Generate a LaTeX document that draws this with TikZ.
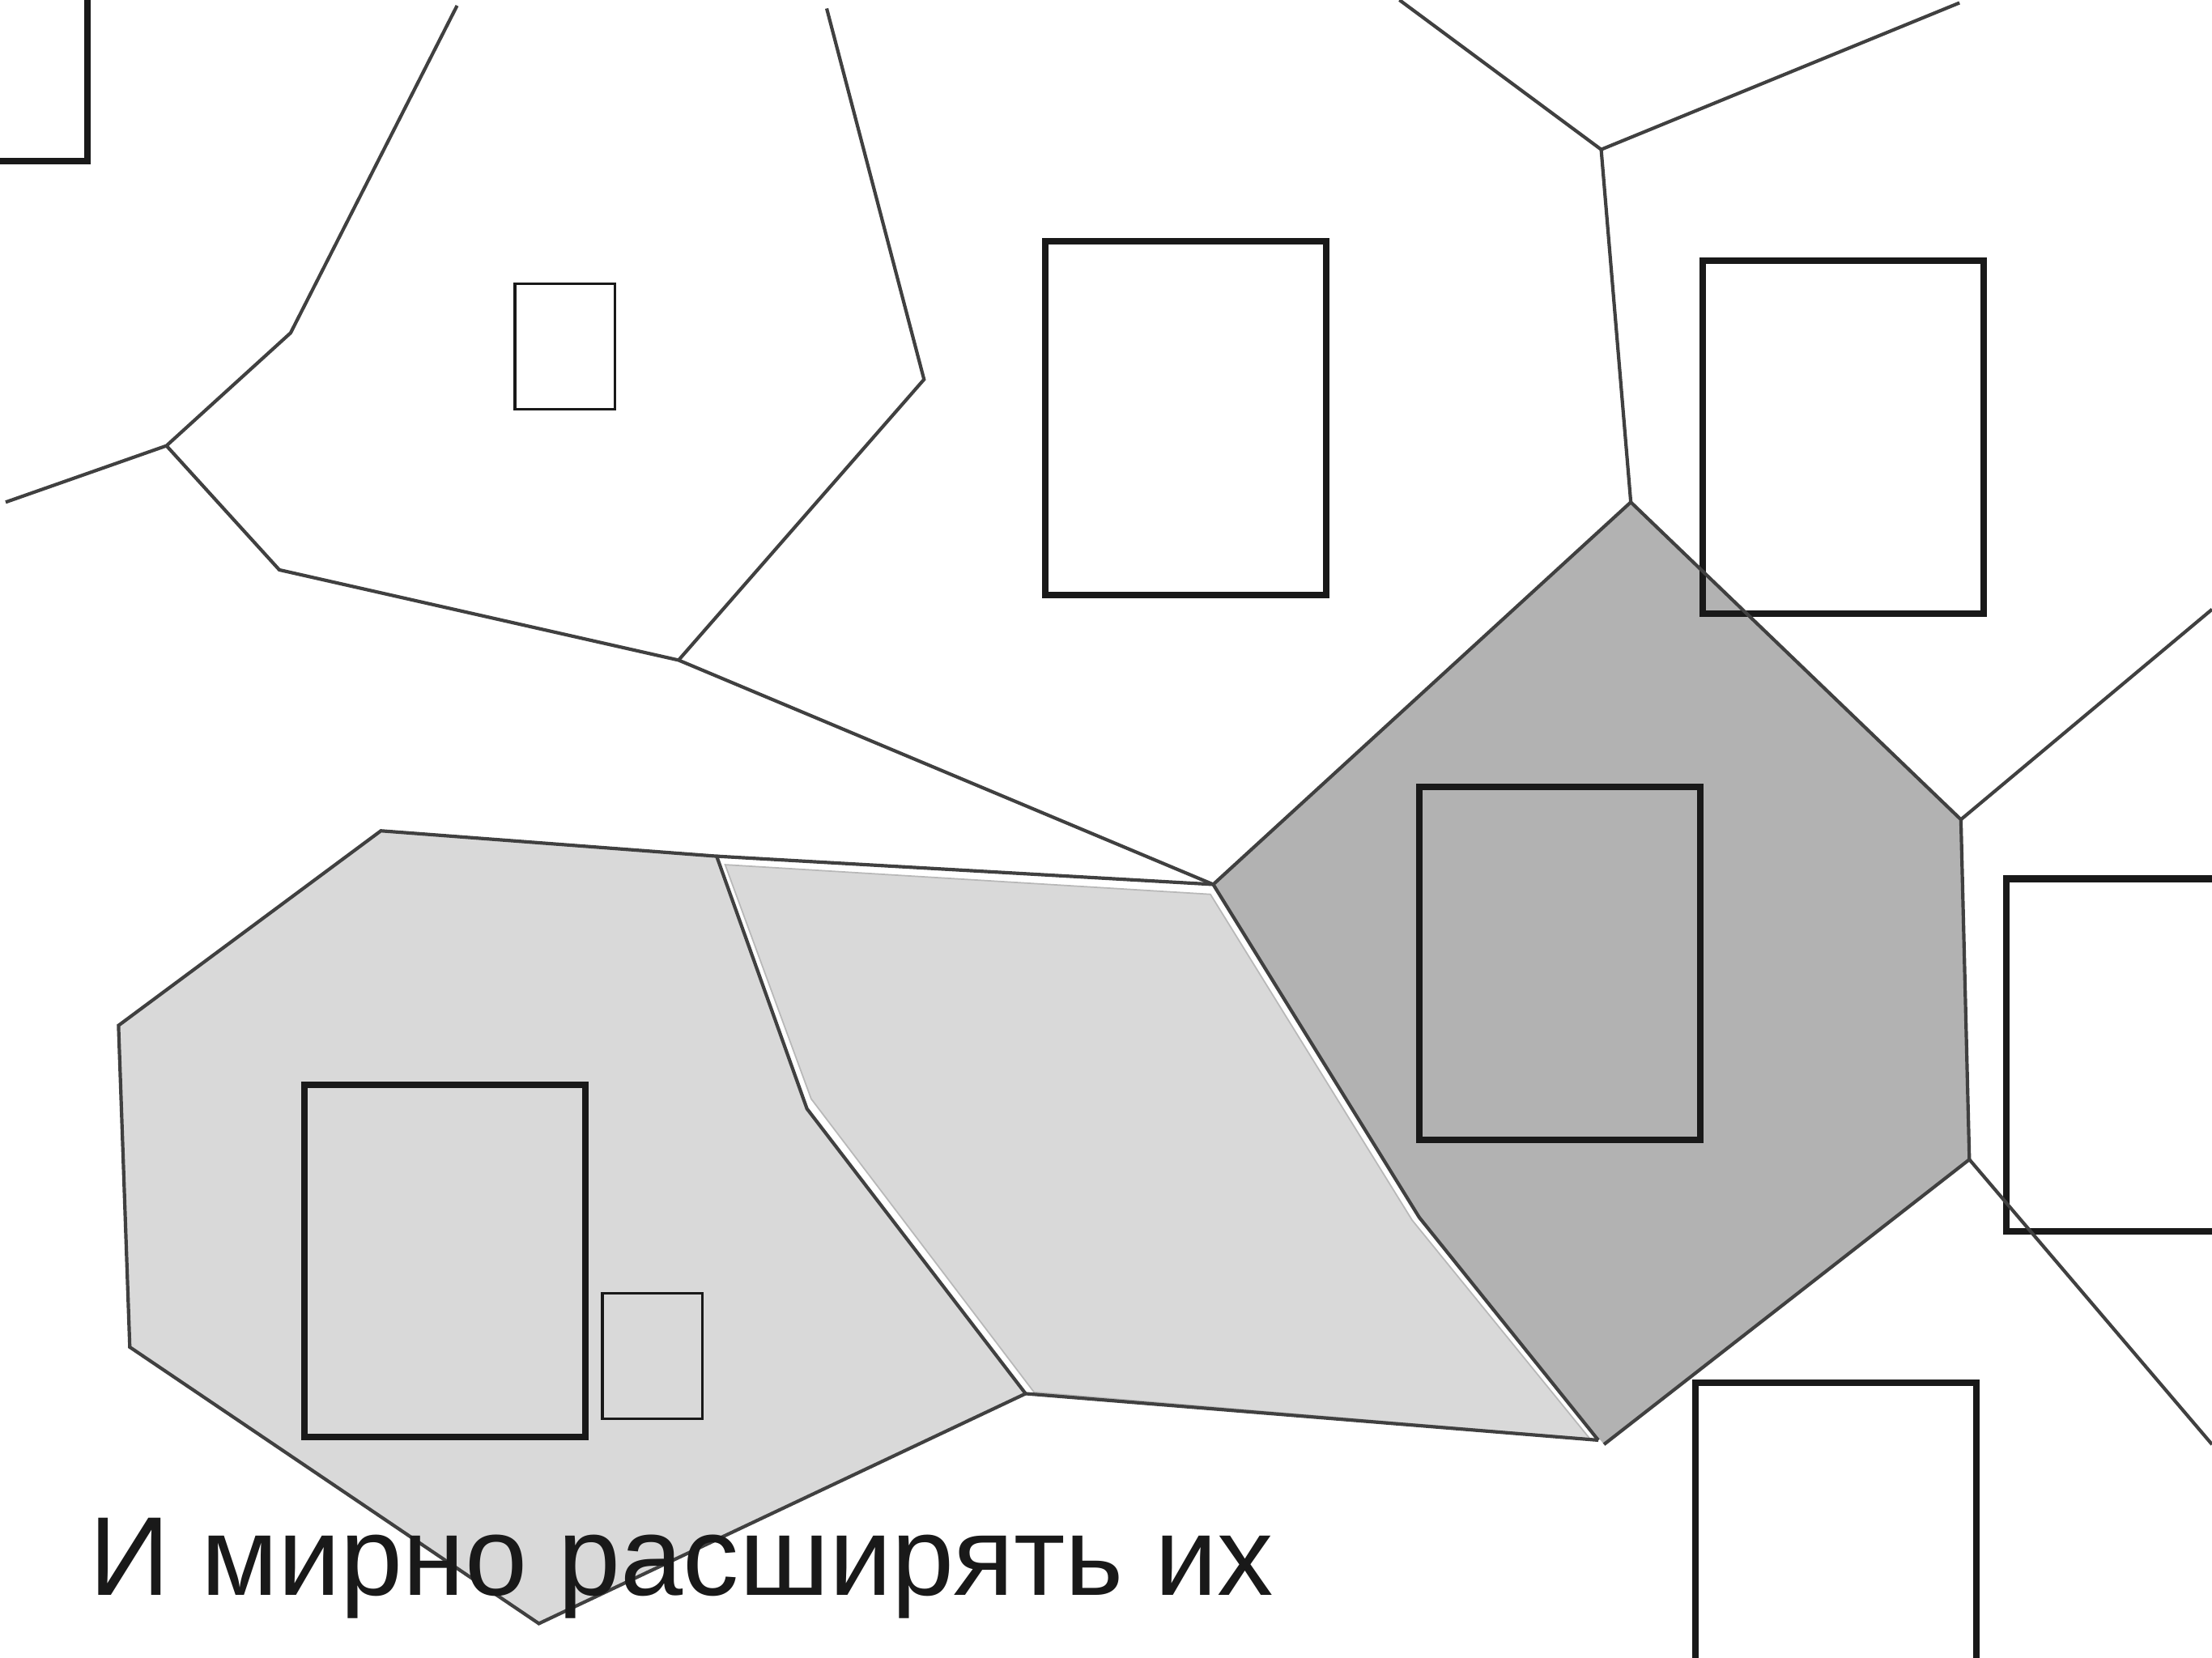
\documentclass[tikz,border=0pt]{standalone}
\usepackage{fontspec}
\setmainfont{Liberation Sans}
\begin{document}
\begin{tikzpicture}[x=1pt,y=-1pt,
  edge/.style={draw=black!75, line width=2.4pt, line join=miter},
  bigbox/.style={draw=black!90, line width=4.6pt},
  smallbox/.style={draw=black!90, line width=1.8pt},
  lightfill/.style={fill=black!15},
  darkfill/.style={fill=black!30}]
\useasboundingbox (0,0) rectangle (1568,1175);
\clip (0,0) rectangle (1568,1175);
% coordinates
\coordinate (p1) at (270,589);
\coordinate (p2) at (508,607);
\coordinate (p3) at (572,786);
\coordinate (p4) at (727,988);
\coordinate (p5) at (382,1151);
\coordinate (p6) at (92,955);
\coordinate (p7) at (84,727);
\coordinate (hA) at (860,627);
\coordinate (hB) at (1156,356);
\coordinate (hC) at (1390,581);
\coordinate (hD) at (1396,822);
\coordinate (hE) at (1137,1024);
\coordinate (hF) at (1006,863);
% fills
\fill[lightfill] (p1) -- (p2) -- (p3) -- (p4) -- (p5) -- (p6) -- (p7) -- cycle;
\filldraw[lightfill, draw=black!28, line width=1pt] (514,613) -- (858,634) -- (1001,865) -- (1127,1020) -- (733,987) -- (575,779) -- cycle;
\fill[darkfill, shift={(3,3.5)}] (hA) -- (hB) -- (hC) -- (hD) -- (hE) -- (hF) -- cycle;
% boxes
\draw[bigbox] (-10,-10) rectangle (62,114);
\draw[bigbox] (741,171) rectangle (940,422);
\draw[bigbox] (1207,185) rectangle (1406,435);
\draw[bigbox] (1006,558) rectangle (1205,808);
\draw[bigbox] (216,769) rectangle (415,1019);
\draw[bigbox] (1422,623) rectangle (1590,873);
\draw[bigbox] (1202,980) rectangle (1401,1200);
\draw[smallbox] (365,201) rectangle (436,290);
\draw[smallbox] (427,917) rectangle (498,1006);
% cell edges
\draw[edge] (p1) -- (p2) -- (p3) -- (p4) -- (p5) -- (p6) -- (p7) -- cycle;
\draw[edge] (p2) -- (hA);
\draw[edge] (p4) -- (1133,1021);
\draw[edge] (hA) -- (hB) -- (hC) -- (hD) -- (hE);
\draw[edge] (hA) -- (hF) -- (1133,1021);
\coordinate (q1) at (324,4);
\coordinate (q2) at (206,236);
\coordinate (q3) at (118,316);
\coordinate (q4) at (4,356);
\coordinate (q5) at (198,404);
\coordinate (q6) at (481,468);
\coordinate (q7) at (586,6);
\coordinate (q8) at (655,269);
\coordinate (r1) at (992,0);
\coordinate (r2) at (1135,106);
\coordinate (r3) at (1389,2);
\coordinate (s1) at (1568,432);
\coordinate (s2) at (1568,1024);
\draw[edge] (q1) -- (q2) -- (q3) -- (q4);
\draw[edge] (q3) -- (q5) -- (q6);
\draw[edge] (q7) -- (q8) -- (q6);
\draw[edge] (q6) -- (hA);
\draw[edge] (r1) -- (r2) -- (r3);
\draw[edge] (r2) -- (hB);
\draw[edge] (hC) -- (s1);
\draw[edge] (hD) -- (s2);
% caption
\node[anchor=base west, inner sep=0pt, text=black!90, font=\fontsize{79.5}{92}\selectfont] (cap) at (63,1131) {И мирно расширять их};
\end{tikzpicture}
\end{document}
